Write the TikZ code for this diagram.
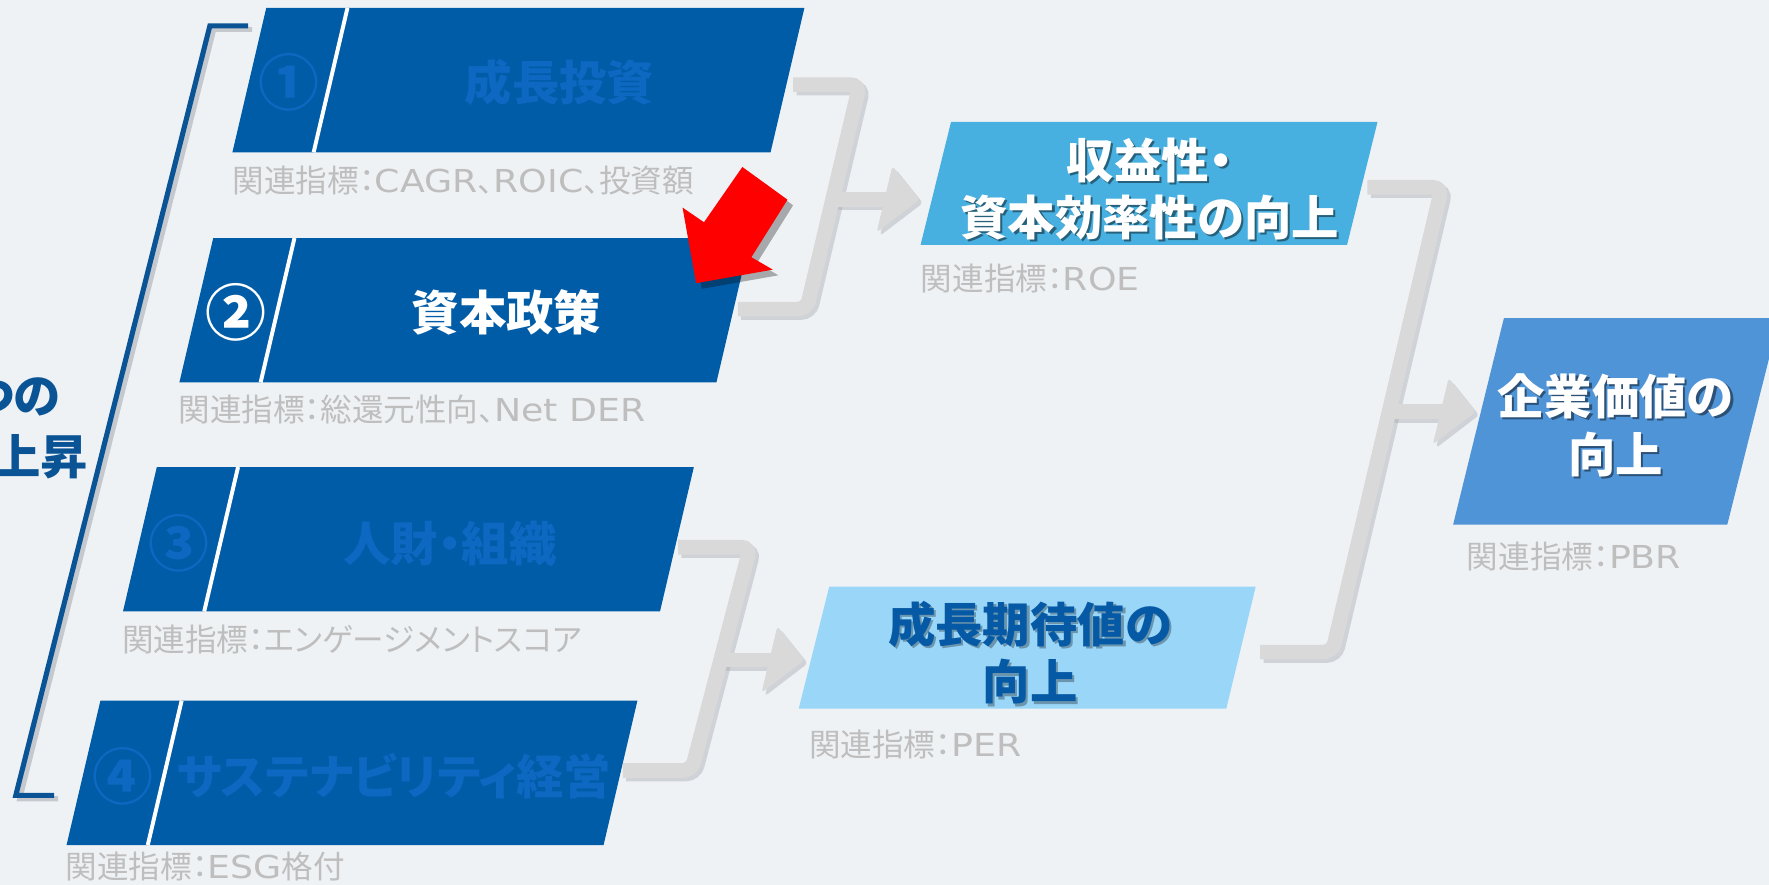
\documentclass[tikz,border=0pt]{standalone}
\usepackage{fontspec}
\setmainfont{Noto Sans CJK JP}[RawFeature=+palt]
\newfontfamily\lat{DejaVu Sans}[FakeStretch=1.15]
\definecolor{bg}{RGB}{239,242,245}
\definecolor{navy}{RGB}{0,92,166}
\definecolor{fade}{RGB}{12,104,192}
\definecolor{skyA}{RGB}{71,176,224}
\definecolor{skyB}{RGB}{154,214,248}
\definecolor{skyC}{RGB}{80,148,216}
\definecolor{conn}{RGB}{217,217,217}
\definecolor{shdw}{RGB}{170,174,180}
\definecolor{lblgray}{RGB}{190,190,190}
\definecolor{brk}{RGB}{10,84,150}
\definecolor{txtB}{RGB}{6,90,165}
\newcommand\pgbox[5]{\fill[#1] (#2,#3) -- ++(#4,0) -- ++(-30,128) -- ++(-#4,0) -- cycle;
  \draw[white, line width=3.5pt] (#2+#5,#3) -- ++(-30,128);}
\begin{document}
\begin{tikzpicture}[x=1pt,y=-1pt,
  big/.style={font=\fontsize{42}{51}\selectfont\bfseries, align=center, inner sep=0},
  num/.style={font=\fontsize{54}{60}\selectfont\bfseries, inner sep=0},
  lbl/.style={font=\fontsize{28}{32}\selectfont, text=lblgray, anchor=west, inner sep=0},
  bar/.style={draw=conn, line width=13pt, rounded corners=8pt},
  barshadow/.style={draw=shdw, line width=13pt, rounded corners=8pt, opacity=.45},
  head/.style={fill=conn, rounded corners=3pt},
  headshadow/.style={fill=shdw, opacity=.45, rounded corners=3pt},
  tshadow/.style={text=black, opacity=.45, xshift=2pt, yshift=-2pt}]
\useasboundingbox (0,0) rectangle (1568,784);
\clip (0,0) rectangle (1568,784);
\fill[bg] (0,0) rectangle (1568,784);

% left bracket
\coordinate (k1) at (220,23);
\coordinate (k2) at (186,23);
\coordinate (k3) at (14,705);
\coordinate (k4) at (48,705);
\begin{scope}[transform canvas={shift={(3.5pt,-3pt)}}]
  \draw[draw=shdw, opacity=.6, line width=4.5pt] (k1) -- (k2) -- (k3) -- (k4);
\end{scope}
\draw[draw=brk, line width=4.5pt] (k1) -- (k2) -- (k3) -- (k4);

% left text (clipped at the edge)
\node[big, text=brk, anchor=east] (t1) at (54,352) {つの};
\node[big, text=brk, anchor=east] (t2) at (78,405) {上昇};

% measure boxes
\pgbox{navy}{236}{7}{477}{72}
\pgbox{navy}{189}{211}{476}{72}
\pgbox{navy}{139}{414}{476}{72}
\pgbox{navy}{89}{621}{476}{72}

% result boxes
\fill[skyA] (843,108) -- (1221,108) -- (1194,217) -- (816,217) -- cycle;
\fill[skyB] (735,520) -- (1113,520) -- (1087,628) -- (708,628) -- cycle;
\fill[skyC] (1333,282) -- (1577,282) -- (1531,465) -- (1288,465) -- cycle;

% connector coordinates
\coordinate (c1a) at (703,75);  \coordinate (c1b) at (762,75);
\coordinate (c1c) at (715,274); \coordinate (c1d) at (654,274);
\coordinate (c1m) at (738,177); \coordinate (c1s) at (786,177); \coordinate (c1t) at (815,177);
\coordinate (c2a) at (601,485); \coordinate (c2b) at (665,485);
\coordinate (c2c) at (613,683); \coordinate (c2d) at (552,683);
\coordinate (c2m) at (639,585); \coordinate (c2s) at (684,585); \coordinate (c2t) at (713,585);
\coordinate (c3a) at (1212,166); \coordinate (c3b) at (1278,166);
\coordinate (c3c) at (1181,578); \coordinate (c3d) at (1117,578);
\coordinate (c3m) at (1231,365); \coordinate (c3s) at (1279,365); \coordinate (c3t) at (1308,365);

% shadows of connectors
\begin{scope}[transform canvas={shift={(3pt,-3pt)}}]
  \foreach \c in {c1,c2,c3}{
    \draw[barshadow] (\c a) -- (\c b) -- (\c c) -- (\c d);
    \draw[barshadow] (\c m) -- (\c s);
    \fill[headshadow] (\c t) -- ++(-24,-30) -- ++(-14,59) -- cycle;
  }
\end{scope}
% connectors
\foreach \c in {c1,c2,c3}{
  \draw[bar] (\c a) -- (\c b) -- (\c c) -- (\c d);
  \draw[bar] (\c m) -- (\c s);
  \fill[head] (\c t) -- ++(-24,-30) -- ++(-14,59) -- cycle;
}

% texts in measure boxes
\node[num, text=fade] (n1) at (256,73) {①};
\node[big, text=fade] (b1) at (496,73) {成長投資};
\node[num, text=white] (n2) at (209,277) {②};
\node[big, text=white] (b2) at (449,277) {資本政策};
\node[num, text=fade] (n3) at (159,482) {③};
\node[big, text=fade] (b3) at (399,482) {人財・組織};
\node[num, text=fade] (n4) at (109,688) {④};
\node[big, text=fade] (b4) at (349,688) {サステナビリティ経営};

% texts in result boxes
\node[big, tshadow] at (1019,167.5) {収益性・\\資本効率性の向上};
\node[big, text=white] (rA) at (1019,167.5) {収益性・\\資本効率性の向上};
\node[big, tshadow, opacity=.3] at (913,578.5) {成長期待値の\\向上};
\node[big, text=txtB] (rB) at (913,578.5) {成長期待値の\\向上};
\node[big, tshadow] at (1432,377) {企業価値の\\向上};
\node[big, text=white] (rC) at (1432,377) {企業価値の\\向上};

% labels
\node[lbl] (l1) at (206,160) {関連指標：{\lat CAGR}、{\lat ROIC}、投資額};
\node[lbl] (l2) at (158,363) {関連指標：総還元性向、{\lat Net DER}};
\node[lbl] (l3) at (108,567) {関連指標：エンゲージメントスコア};
\node[lbl] (l4) at (58,768) {関連指標：{\lat ESG}格付};
\node[lbl] (l5) at (816,247) {関連指標：{\lat ROE}};
\node[lbl] (l6) at (717,660) {関連指標：{\lat PER}};
\node[lbl] (l7) at (1300,493) {関連指標：{\lat PBR}};

% red pointer arrow
\coordinate (r1) at (658,148); \coordinate (r2) at (698,177);
\coordinate (r3) at (666,228); \coordinate (r4) at (685,239);
\coordinate (r5) at (617,251); \coordinate (r6) at (605,184);
\coordinate (r7) at (624,197);
\begin{scope}[transform canvas={shift={(5pt,-5pt)}}]
  \fill[black, opacity=.3] (r1) -- (r2) -- (r3) -- (r4) -- (r5) -- (r6) -- (r7) -- cycle;
\end{scope}
\fill[red] (r1) -- (r2) -- (r3) -- (r4) -- (r5) -- (r6) -- (r7) -- cycle;
\end{tikzpicture}
\end{document}
